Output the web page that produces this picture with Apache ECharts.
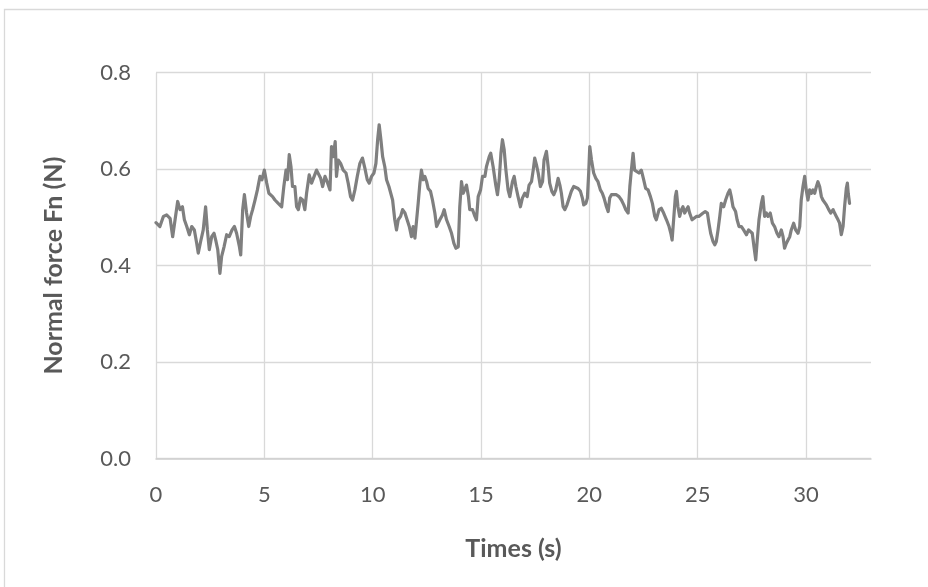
<!DOCTYPE html>
<html>
<head>
<meta charset="utf-8">
<script src="https://cdn.jsdelivr.net/npm/echarts@6/dist/echarts.min.js"></script>
<style>
html,body{margin:0;padding:0;background:#fff;}
#chart{width:928px;height:587px;}
</style>
</head>
<body>
<div id="chart"></div>
<script>
// Time (s)
var times = [
0.00,0.18,0.34,0.49,0.65,0.77,0.88,1.00,1.11,1.22,1.31,1.42,1.54,1.65,1.77,1.88,1.95,2.06,2.18,2.29,2.37,2.46,2.57,2.68,2.77,2.85,2.95,3.03,3.14,3.26,3.38,3.51,3.62,3.72,3.85,3.91,4.00,4.08,4.18,4.28,4.37,4.46,4.57,4.68,4.80,4.89,5.00,5.11,5.21,
5.38,5.49,5.64,5.80,5.90,6.00,6.07,6.15,6.23,6.30,6.41,6.49,6.57,6.67,6.77,6.87,6.95,7.07,7.18,7.30,7.41,7.50,7.60,7.69,7.80,7.90,8.03,8.10,8.18,8.27,8.33,8.41,8.52,8.64,8.77,8.87,8.98,9.07,9.18,9.29,9.41,9.53,9.64,9.75,9.84,9.95,10.06,10.15,10.23,10.30,10.38,10.46,10.56,10.64,10.75,
10.92,11.02,11.10,11.18,11.29,11.38,11.49,11.59,11.69,11.79,11.87,11.95,12.02,12.10,12.18,12.25,12.33,12.41,12.49,12.56,12.67,12.76,12.87,12.95,13.02,13.10,13.22,13.30,13.41,13.53,13.64,13.75,13.84,13.95,14.02,14.10,14.18,14.25,14.33,14.42,14.48,14.61,14.72,14.79,14.87,14.98,15.07,15.18,15.25,15.38,15.45,15.56,15.68,15.76,15.84,15.92,15.99,16.07,16.15,16.25,16.33,
16.45,16.53,16.61,16.71,16.82,16.91,17.02,17.13,17.22,17.33,17.41,17.48,17.56,17.64,17.74,17.84,17.91,18.02,18.10,18.17,18.27,18.36,18.45,18.56,18.64,18.71,18.79,18.87,18.97,19.07,19.17,19.28,19.37,19.48,19.59,19.68,19.74,19.84,19.91,19.97,20.02,20.10,20.20,20.30,20.40,20.51,20.60,20.68,20.79,20.87,20.94,21.02,21.13,21.25,21.37,21.48,21.59,21.68,21.79,21.87,
21.94,22.02,22.09,22.17,22.29,22.40,22.51,22.60,22.71,22.82,22.91,23.02,23.09,23.22,23.32,23.43,23.56,23.68,23.76,23.82,23.89,23.97,24.02,24.09,24.17,24.25,24.32,24.40,24.48,24.56,24.63,24.74,24.83,24.94,25.05,25.14,25.25,25.35,25.45,25.52,25.60,25.71,25.79,25.86,25.94,26.02,26.09,26.20,26.29,26.40,26.48,26.55,26.63,26.75,26.82,26.91,27.02,27.12,27.25,27.35,
27.52,27.60,27.68,27.75,27.83,27.94,28.01,28.09,28.17,28.25,28.35,28.45,28.55,28.66,28.75,28.86,28.94,29.01,29.09,29.17,29.25,29.32,29.43,29.52,29.63,29.71,29.78,29.86,29.94,30.01,30.09,30.17,30.25,30.32,30.40,30.48,30.55,30.63,30.71,30.78,30.86,30.94,31.05,31.14,31.25,31.32,31.40,31.48,31.55,31.63,31.71,31.78,31.86,31.91,31.95,32.01
];
// Normal force Fn (N)
var forces = [
0.489,0.481,0.502,0.505,0.498,0.460,0.495,0.533,0.516,0.522,0.495,0.481,0.464,0.481,0.474,0.446,0.426,0.450,0.474,0.522,0.474,0.433,0.460,0.467,0.450,0.433,0.384,0.419,0.439,0.464,0.460,0.474,0.481,0.467,0.439,0.422,0.516,0.547,0.509,0.481,0.502,0.516,0.536,0.557,0.585,0.578,0.598,0.571,0.550,
0.543,0.536,0.529,0.522,0.564,0.598,0.578,0.630,0.605,0.564,0.564,0.522,0.516,0.540,0.536,0.516,0.550,0.588,0.571,0.585,0.598,0.602,0.581,0.564,0.585,0.574,0.557,0.647,0.626,0.657,0.585,0.619,0.612,0.598,0.592,0.571,0.543,0.536,0.557,0.585,0.612,0.623,0.602,0.578,0.571,0.585,0.592,0.612,0.661,0.692,0.661,0.626,0.605,0.578,0.564,
0.536,0.495,0.474,0.495,0.502,0.516,0.509,0.495,0.481,0.460,0.481,0.457,0.457,0.529,0.571,0.598,0.578,0.585,0.574,0.560,0.554,0.536,0.509,0.481,0.484,0.495,0.505,0.516,0.495,0.481,0.467,0.446,0.436,0.439,0.522,0.574,0.550,0.547,0.567,0.543,0.516,0.516,0.502,0.495,0.543,0.557,0.585,0.585,0.605,0.626,0.633,0.605,0.567,0.547,0.578,0.633,0.661,0.640,0.598,0.557,0.543,
0.574,0.585,0.564,0.543,0.522,0.540,0.550,0.543,0.567,0.574,0.598,0.623,0.609,0.592,0.564,0.574,0.619,0.637,0.605,0.571,0.554,0.547,0.557,0.581,0.567,0.550,0.522,0.516,0.526,0.540,0.554,0.564,0.564,0.560,0.554,0.540,0.526,0.529,0.540,0.592,0.647,0.619,0.592,0.581,0.574,0.557,0.550,0.540,0.522,0.512,0.540,0.547,0.547,0.547,0.543,0.536,0.526,0.516,0.509,0.564,
0.598,0.633,0.598,0.595,0.592,0.598,0.578,0.560,0.557,0.543,0.529,0.502,0.495,0.516,0.519,0.509,0.495,0.481,0.467,0.453,0.495,0.543,0.554,0.522,0.502,0.516,0.522,0.509,0.516,0.522,0.509,0.495,0.495,0.502,0.502,0.502,0.509,0.512,0.509,0.488,0.467,0.450,0.443,0.450,0.474,0.502,0.529,0.522,0.536,0.550,0.557,0.543,0.522,0.512,0.495,0.481,0.481,0.474,0.464,0.474,
0.467,0.439,0.412,0.453,0.495,0.529,0.543,0.502,0.509,0.502,0.509,0.488,0.481,0.467,0.460,0.474,0.460,0.436,0.446,0.453,0.460,0.474,0.488,0.474,0.467,0.481,0.536,0.564,0.585,0.557,0.536,0.557,0.550,0.557,0.550,0.564,0.574,0.564,0.543,0.536,0.540,0.526,0.516,0.509,0.516,0.509,0.502,0.495,0.488,0.464,0.481,0.522,0.560,0.571,0.550,0.529
];
var xTicks = [0, 5, 10, 15, 20, 25, 30];
var yTicks = [0.0, 0.2, 0.4, 0.6, 0.8];

var seriesData = times.map(function (t, i) { return [t, forces[i]]; });

var chart = echarts.init(document.getElementById('chart'), null, {renderer: 'canvas'});
var txt = '#595959';
var font = 'Lato, "Open Sans", sans-serif';
chart.setOption({
  animation: false,
  backgroundColor: '#ffffff',
  graphic: [{
    type: 'rect',
    shape: {x: 4.5, y: 9.5, width: 940, height: 600},
    style: {fill: 'none', stroke: '#d9d9d9', lineWidth: 1.3},
    silent: true
  }],
  grid: {left: 156, top: 72.7, right: 57, bottom: 128.5, containLabel: false},
  xAxis: {
    type: 'value',
    min: 0, max: 33, interval: 5,
    name: 'Times (s)',
    nameLocation: 'middle',
    nameGap: 78,
    nameTextStyle: {color: txt, fontSize: 25, fontWeight: 'bold', fontFamily: font},
    axisLine: {show: true, lineStyle: {color: '#d0d0d0', width: 1.5}},
    axisTick: {show: false},
    axisLabel: {
      color: txt, fontSize: 22, fontFamily: font, margin: 25,
      showMaxLabel: false,
      formatter: function (v) { return xTicks.indexOf(v) >= 0 ? String(v) : ''; }
    },
    splitLine: {show: true, showMaxLine: false, lineStyle: {color: '#d9d9d9', width: 1.3}}
  },
  yAxis: {
    type: 'value',
    min: 0, max: 0.8, interval: 0.2,
    name: 'Normal force Fn (N)',
    nameLocation: 'middle',
    nameGap: 90,
    nameRotate: 90,
    nameTextStyle: {color: txt, fontSize: 25, fontWeight: 'bold', fontFamily: font},
    axisLine: {show: false},
    axisTick: {show: false},
    axisLabel: {
      color: txt, fontSize: 22, fontFamily: font, margin: 25,
      formatter: function (v) { return v.toFixed(1); }
    },
    splitLine: {show: true, lineStyle: {color: '#d9d9d9', width: 1.3}}
  },
  series: [{
    type: 'line',
    data: seriesData,
    showSymbol: false,
    symbol: 'none',
    lineStyle: {color: '#7f7f7f', width: 3.2, join: 'round', cap: 'round'},
    itemStyle: {color: '#7f7f7f'}
  }]
});
</script>
</body>
</html>
